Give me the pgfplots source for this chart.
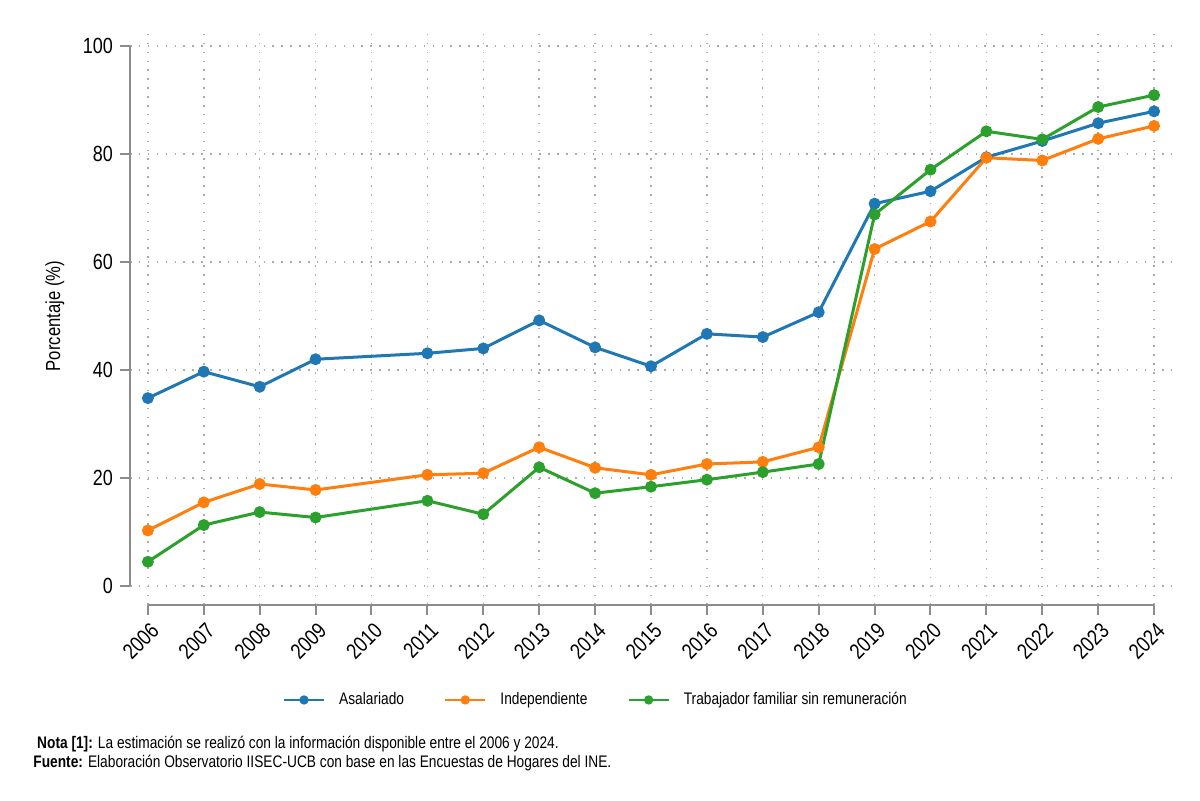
\documentclass[border=0pt]{standalone}
\usepackage{pgfplots}
\pgfplotsset{compat=1.18}
\usepackage{fontspec}
\setmainfont{Liberation Sans}[FakeStretch=0.82]
\definecolor{cA}{HTML}{1F77B4}
\definecolor{cB}{HTML}{FF7F0E}
\definecolor{cC}{HTML}{2CA02C}
\definecolor{spine}{HTML}{8C8C8C}
\begin{document}
\begin{tikzpicture}
\path (0,0) rectangle (600bp,400.5bp);
\begin{axis}[
  at={(65bp,98bp)}, anchor=south west,
  scale only axis, width=521bp, height=286bp,
  xmin=2005.68, xmax=2024.32, ymin=-3.5, ymax=102.4,
  axis lines*=left, axis line style={draw=none},
  clip=false,
  xtick={2006,...,2024}, ytick={0,20,...,100},
  /pgf/number format/1000 sep={},
  /pgf/number format/assume math mode=true,
  tick align=outside, major tick length=5bp,
  tick style={spine, line width=1bp},
  xticklabel style={rotate=45, anchor=north east, font=\fontsize{11}{13}\selectfont, inner sep=1.5bp, yshift=-1bp},
  yticklabel style={font=\fontsize{11}{13}\selectfont},
  grid=major,
  grid style={gray!65, line width=0.75bp, dash pattern=on 0.75bp off 3.7bp},
  ylabel={Porcentaje (\%)},
  every axis y label/.style={at={(axis description cs:-0.072,0.505)}, rotate=90, anchor=center, font=\fontsize{10.2}{12}\selectfont},
  legend columns=3,
  legend style={draw=none, at={(axis description cs:0.448,-0.166)}, anchor=center, font=\fontsize{8.4}{10}\selectfont,
    /tikz/every odd column/.append style={column sep=5bp},
    /tikz/every even column/.append style={column sep=18bp}},
  legend image code/.code={\draw[#1, line width=1.2bp, mark size=1.7bp, mark repeat=2, mark phase=2] plot coordinates {(0bp,0bp) (10bp,0bp) (20bp,0bp)};},
  every axis plot/.append style={line width=1.5bp, mark=*, mark size=2.2bp},
]
\addplot[cA, mark options={fill=cA}] coordinates {
(2006,34.8) (2007,39.7) (2008,36.9) (2009,42.0) (2011,43.1) (2012,44.0) (2013,49.2) (2014,44.2) (2015,40.7) (2016,46.7) (2017,46.1) (2018,50.7) (2019,70.8) (2020,73.1) (2021,79.4) (2022,82.4) (2023,85.7) (2024,87.9)};
\addlegendentry{Asalariado}
\addplot[cB, mark options={fill=cB}] coordinates {
(2006,10.3) (2007,15.5) (2008,18.9) (2009,17.8) (2011,20.6) (2012,20.9) (2013,25.7) (2014,21.9) (2015,20.6) (2016,22.6) (2017,23.0) (2018,25.7) (2019,62.4) (2020,67.5) (2021,79.3) (2022,78.8) (2023,82.8) (2024,85.2)};
\addlegendentry{Independiente}
\addplot[cC, mark options={fill=cC}] coordinates {
(2006,4.5) (2007,11.3) (2008,13.7) (2009,12.7) (2011,15.8) (2012,13.3) (2013,22.0) (2014,17.2) (2015,18.4) (2016,19.7) (2017,21.1) (2018,22.6) (2019,68.8) (2020,77.1) (2021,84.2) (2022,82.7) (2023,88.7) (2024,90.9)};
\addlegendentry{Trabajador familiar sin remuneración}
\draw[spine, line width=1bp] (axis cs:2005.68,0) -- (axis cs:2005.68,100);
\draw[spine, line width=1bp] (axis cs:2006,-3.5) -- (axis cs:2024,-3.5);
\end{axis}
\node[anchor=north west, align=left, font=\fontsize{8.4}{9.6}\selectfont, inner sep=0pt] at (16.5bp,32.5bp) {\ \textbf{Nota [1]:} La estimación se realizó con la información disponible entre el 2006 y 2024.\\\textbf{Fuente:} Elaboración Observatorio IISEC-UCB con base en las Encuestas de Hogares del INE.};
\end{tikzpicture}
\end{document}
